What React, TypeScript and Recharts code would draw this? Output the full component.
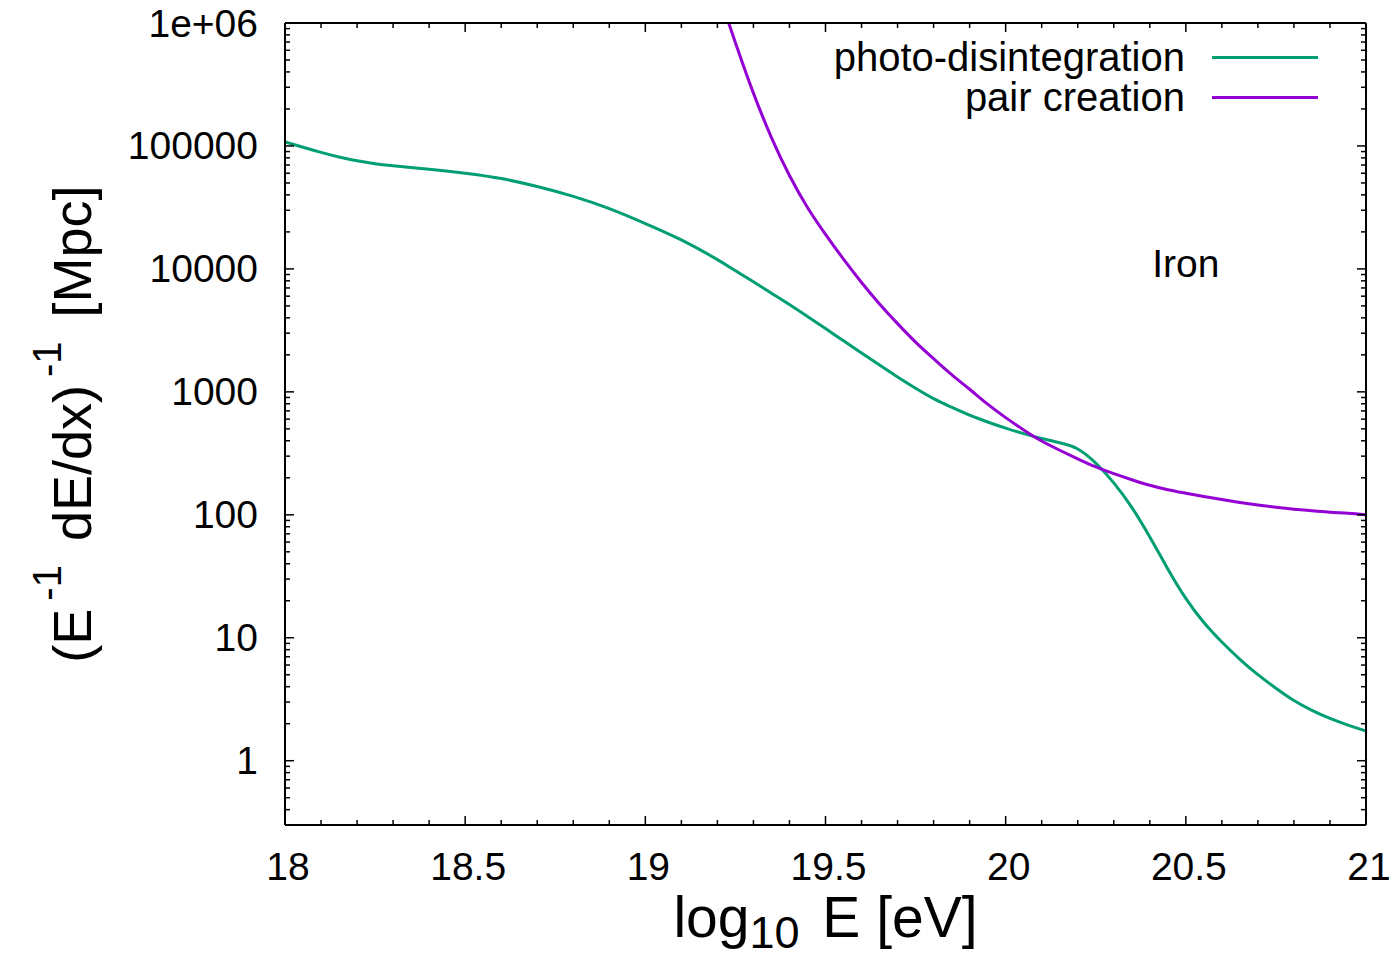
import React from 'react';
import { LineChart, Line, XAxis, YAxis, Legend, ReferenceDot } from 'recharts';

// ---- data ----
const energies = [
  18.0, 18.05, 18.1, 18.15, 18.2, 18.25, 18.3, 18.4, 18.5, 18.6,
  18.7, 18.8, 18.9, 19.0, 19.1, 19.2, 19.25, 19.3, 19.35, 19.4,
  19.45, 19.5, 19.55, 19.6, 19.65, 19.7, 19.75, 19.8, 19.85, 19.9,
  19.95, 20.0, 20.05, 20.1, 20.15, 20.2, 20.25, 20.3, 20.35, 20.4,
  20.45, 20.5, 20.55, 20.6, 20.65, 20.7, 20.75, 20.8, 20.85, 20.9,
  20.95, 21.0,
];
const photoDisintegration = [
  108000, 97700, 88700, 81300, 75700, 71600, 68900, 64600, 60000, 54300,
  46800, 38900, 30900, 23400, 17200, 11900, 9660, 7850, 6350, 5130,
  4100, 3270, 2600, 2070, 1650, 1320, 1070, 881, 750, 646,
  569, 507, 457, 417, 385, 343, 263, 182, 115, 66.1,
  36.3, 20.9, 13.3, 9.23, 6.68, 5.01, 3.89, 3.09, 2.57, 2.21,
  1.95, 1.74,
];
const pairCreation = [
  null, null, null, null, null, null, null, null, null, null,
  null, null, null, null, null, 1860000, 692000, 269000, 117000, 57500,
  31600, 19100, 12000, 7760, 5190, 3590, 2540, 1860, 1380, 1050,
  794, 617, 490, 398, 335, 285, 245, 216, 193, 174,
  160, 150, 141, 133, 126, 120, 115, 111, 108, 105,
  103, 100,
];
const seriesNames = ['photo-disintegration', 'pair creation'];
const seriesColors = ['#009e73', '#9400d3'];

const xMajorTicks = [18, 18.5, 19, 19.5, 20, 20.5, 21];
const xMajorLabels = ['18', '18.5', '19', '19.5', '20', '20.5', '21'];
const yMajorTicks = [1, 10, 100, 1000, 10000, 100000, 1000000];
const yMajorLabels = ['1', '10', '100', '1000', '10000', '100000', '1e+06'];
const xDomain = [18, 21];
const yDomain = [0.3, 1000000];

const data = energies.map((e, i) => ({
  e,
  pd: photoDisintegration[i],
  pc: pairCreation[i],
}));

// minor ticks
const xTicks: number[] = [];
for (let i = 0; i <= 30; i++) xTicks.push(Math.round((18 + i * 0.1) * 10) / 10);
const yTicks: number[] = [];
for (let d = -1; d <= 5; d++) {
  for (let m = 1; m <= 9; m++) {
    const v = m * Math.pow(10, d);
    if (v >= 0.3 && v <= 1000000) yTicks.push(Number(v.toPrecision(3)));
  }
}
yTicks.push(1000000);

const FONT = '"Liberation Sans", Arial, Helvetica, sans-serif';
const MARGIN = { top: 22, right: 25, bottom: 132, left: 0 };
const PLOT_TOP = MARGIN.top + 1;

const xLabelOf = (v: number) => {
  const i = xMajorTicks.findIndex((t) => Math.abs(t - v) < 1e-6);
  return i >= 0 ? xMajorLabels[i] : null;
};
const yLabelOf = (v: number) => {
  const i = yMajorTicks.findIndex((t) => Math.abs(t - v) / t < 1e-6);
  return i >= 0 ? yMajorLabels[i] : null;
};

const BottomTick = (props: any) => {
  const { x, y, payload } = props;
  const lab = xLabelOf(payload.value);
  const len = lab ? 9 : 5;
  return (
    <g>
      <line x1={x} x2={x} y1={y} y2={y - len} stroke="#000" strokeWidth={1.5} />
      <line x1={x} x2={x} y1={PLOT_TOP} y2={PLOT_TOP + len} stroke="#000" strokeWidth={1.5} />
      {lab && (
        <text x={x + 3} y={y + 41} textAnchor="middle" dominantBaseline="central" fontSize={39} fontFamily={FONT} fill="#000">
          {lab}
        </text>
      )}
    </g>
  );
};
const LeftTick = (props: any) => {
  const { x, y, payload } = props;
  const lab = yLabelOf(payload.value);
  return (
    <g>
      <line x1={x} x2={x + (lab ? 9 : 5)} y1={y} y2={y} stroke="#000" strokeWidth={1.5} />
      {lab && (
        <text x={x - 27} y={y} textAnchor="end" dominantBaseline="central" fontSize={39} fontFamily={FONT} fill="#000">
          {lab}
        </text>
      )}
    </g>
  );
};
const RightTick = (props: any) => {
  const { x, y, payload } = props;
  const lab = yLabelOf(payload.value);
  return <line x1={x} x2={x - (lab ? 9 : 5)} y1={y} y2={y} stroke="#000" strokeWidth={1.5} />;
};

const YTitle = (props: any) => {
  const vb = props.viewBox || {};
  const cy = vb.y + vb.height / 2;
  const cx = 91;
  return (
    <text
      x={cx}
      y={cy}
      transform={`rotate(-90, ${cx}, ${cy})`}
      textAnchor="middle"
      fontSize={54}
      fontFamily={FONT}
      fill="#000"
    >
      (E<tspan dx={8} dy={-30} fontSize={40}>-1</tspan>
      <tspan dx={9} dy={30}> dE/dx)</tspan>
      <tspan dx={8} dy={-30} fontSize={40}>-1</tspan>
      <tspan dx={9} dy={30}> [Mpc]</tspan>
    </text>
  );
};

const XTitle = (props: any) => {
  const vb = props.viewBox || {};
  const cx = vb.x + vb.width / 2;
  return (
    <text x={cx} y={937} textAnchor="middle" fontSize={57} fontFamily={FONT} fill="#000">
      log<tspan dy={11} fontSize={45}>10</tspan>
      <tspan dx={7} dy={-11}> E [eV]</tspan>
    </text>
  );
};

const IronLabel = (props: any) => {
  const vb = props.viewBox || {};
  const cx = vb.x + (vb.width || 0) / 2;
  const cy = vb.y + (vb.height || 0) / 2;
  return (
    <text x={cx} y={cy - 5} textAnchor="middle" dominantBaseline="central" fontSize={39} fontFamily={FONT} fill="#000">
      Iron
    </text>
  );
};

const LegendContent = (props: any) => {
  const payload = [...(props.payload || [])].sort(
    (a: any, b: any) => seriesNames.indexOf(a.value) - seriesNames.indexOf(b.value)
  );
  return (
    <div style={{ width: 1318, fontFamily: FONT, fontSize: 40, color: '#000' }}>
      {payload.map((p: any, i: number) => (
        <div key={i} style={{ display: 'flex', justifyContent: 'flex-end', alignItems: 'center', height: 40 }}>
          <span style={{ lineHeight: '40px', whiteSpace: 'nowrap' }}>{p.value}</span>
          <span style={{ display: 'inline-block', width: 106, height: 3, background: p.color, marginLeft: 27 }} />
        </div>
      ))}
    </div>
  );
};

export default function App() {
  return (
    <div style={{ position: 'absolute', left: 0, top: 0, width: 1392, height: 958, background: '#fff' }}>
      <LineChart width={1392} height={958} data={data} margin={MARGIN}>
        <XAxis
          xAxisId="b"
          dataKey="e"
          type="number"
          domain={xDomain}
          allowDataOverflow
          ticks={xTicks}
          interval={0}
          height={1}
          tickSize={0}
          tickMargin={0}
          tickLine={false}
          tick={BottomTick}
          axisLine={{ stroke: '#000', strokeWidth: 2 }}
          label={XTitle}
        />
        <XAxis
          xAxisId="t"
          orientation="top"
          type="number"
          domain={xDomain}
          allowDataOverflow
          height={1}
          tick={false}
          tickLine={false}
          axisLine={{ stroke: '#000', strokeWidth: 2 }}
        />
        <YAxis
          yAxisId="l"
          scale="log"
          type="number"
          domain={yDomain}
          allowDataOverflow
          ticks={yTicks}
          interval={0}
          width={285}
          tickSize={0}
          tickMargin={0}
          tickLine={false}
          tick={LeftTick}
          axisLine={{ stroke: '#000', strokeWidth: 2 }}
          label={YTitle}
        />
        <YAxis
          yAxisId="r"
          orientation="right"
          scale="log"
          type="number"
          domain={yDomain}
          allowDataOverflow
          ticks={yTicks}
          interval={0}
          width={1}
          tickSize={0}
          tickMargin={0}
          tickLine={false}
          tick={RightTick}
          axisLine={{ stroke: '#000', strokeWidth: 2 }}
        />
        <Legend
          layout="vertical"
          align="center"
          verticalAlign="middle"
          content={LegendContent}
          wrapperStyle={{ position: 'absolute', left: 0, top: 37, width: 1318 }}
        />
        <Line
          xAxisId="b"
          yAxisId="l"
          type="natural"
          dataKey="pd"
          name={seriesNames[0]}
          stroke={seriesColors[0]}
          strokeWidth={3}
          dot={false}
          activeDot={false}
          isAnimationActive={false}
        />
        <Line
          xAxisId="b"
          yAxisId="l"
          type="natural"
          dataKey="pc"
          name={seriesNames[1]}
          stroke={seriesColors[1]}
          strokeWidth={3}
          dot={false}
          activeDot={false}
          isAnimationActive={false}
        />
        <ReferenceDot
          xAxisId="b"
          yAxisId="l"
          x={20.5}
          y={10000}
          r={1}
          fill="none"
          stroke="none"
          label={IronLabel}
        />
      </LineChart>
    </div>
  );
}
